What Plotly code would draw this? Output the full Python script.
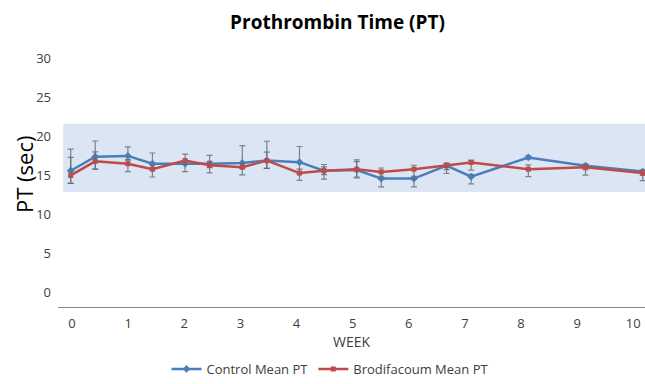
import plotly.graph_objects as go

# Sampling days -> weeks
days = [0, 3, 7, 10, 14, 17, 21, 24, 28, 31, 35, 38, 42, 46, 49, 56, 63, 70]
weeks = [d / 7 for d in days]

control_pt = [15.6, 17.4, 17.5, 16.5, 16.5, 16.5, 16.6, 16.9, 16.7, 15.6, 15.7, 14.6, 14.6, 16.25, 14.85, 17.3, 16.25, 15.5]
brodi_pt = [15.0, 16.8, 16.5, 15.8, 16.9, 16.3, 16.05, 16.9, 15.3, 15.6, 15.8, 15.45, 15.8, 16.25, 16.65, 15.8, 16.05, 15.3]

control_err_plus = [2.77, 2.0, 1.15, 1.37, 0.3, 1.06, 2.2, 2.47, 2.0, 0.8, 1.3, 0.3, 0.3, 0.3, 0.3, 0.2, 0.2, 0.2]
control_err_minus = [1.6, 1.6, 0.5, 0.5, 1.0, 0.5, 0.7, 1.0, 1.5, 0.5, 1.0, 1.07, 1.07, 0.5, 0.93, 0.2, 0.5, 0.5]
brodi_err_plus = [2.3, 1.2, 0.5, 0.5, 0.82, 0.5, 0.5, 1.09, 0.5, 0.5, 0.97, 0.5, 0.5, 0.3, 0.3, 0.55, 0.3, 0.3]
brodi_err_minus = [1.0, 1.0, 1.0, 1.0, 0.5, 0.97, 0.97, 1.0, 0.93, 1.06, 1.0, 0.9, 1.3, 1.0, 0.98, 0.95, 1.0, 0.95]

normal_range = [12.9, 21.6]
y_ticks = [0, 5, 10, 15, 20, 25, 30]
week_labels = list(range(0, 11))

BLUE = "#4a7ebb"
RED = "#be4b48"
ERR = "rgba(95,105,115,0.8)"
FONT = "Open Sans"

fig = go.Figure()
fig.add_trace(go.Scatter(
    x=weeks, y=control_pt, name="Control Mean PT", mode="lines+markers",
    line=dict(color=BLUE, width=2.5), marker=dict(symbol="diamond", size=6, color=BLUE),
    error_y=dict(type="data", symmetric=False, array=control_err_plus,
                 arrayminus=control_err_minus, color=ERR, thickness=1.2, width=3),
))
fig.add_trace(go.Scatter(
    x=weeks, y=brodi_pt, name="Brodifacoum Mean PT", mode="lines+markers",
    line=dict(color=RED, width=2.5), marker=dict(symbol="square", size=5, color=RED),
    error_y=dict(type="data", symmetric=False, array=brodi_err_plus,
                 arrayminus=brodi_err_minus, color=ERR, thickness=1.2, width=3),
))
# secondary (label) week axis, as in the original chart
fig.add_trace(go.Scatter(x=[None], y=[None], xaxis="x2", yaxis="y",
                         showlegend=False, hoverinfo="skip"))

fig.add_shape(type="rect", xref="x", yref="y", x0=-0.13, x1=10.1,
              y0=normal_range[0], y1=normal_range[1],
              fillcolor="#dbe5f3", line=dict(width=0), layer="below")

fig.add_annotation(text="PT (sec)", xref="paper", yref="paper",
                   x=-34 / 587, xanchor="center", y=(307 - 175) / 249, yanchor="middle",
                   textangle=-90, showarrow=False,
                   font=dict(family=FONT, size=22, color="black"))

fig.update_layout(
    width=645, height=384,
    margin=dict(l=58, r=0, t=58, b=77),
    paper_bgcolor="white", plot_bgcolor="white",
    font=dict(family=FONT, color="#404040", size=13),
    title=dict(text="<b>Prothrombin Time (PT)</b>", x=337.5 / 645, xanchor="center",
               y=1 - 22 / 384, yanchor="middle",
               font=dict(family=FONT, size=19, color="black")),
    showlegend=True,
    legend=dict(orientation="h", x=330 / 645, xanchor="center", xref="container",
                yref="container", y=0, yanchor="bottom",
                font=dict(size=13, color="#404040"), itemwidth=30, tracegroupgap=0),
    xaxis=dict(range=[-0.222, 10.04], showticklabels=False,
               showgrid=False, zeroline=False, showline=True, linecolor="#868686",
               linewidth=1, ticks=""),
    xaxis2=dict(range=[-0.25, 10.21], overlaying="x", side="bottom",
                tickvals=week_labels, ticktext=[str(t) for t in week_labels],
                showgrid=False, zeroline=False, showline=False, ticks="",
                ticklabelstandoff=7,
                title=dict(text="WEEK", font=dict(size=14, color="#404040"), standoff=4)),
    yaxis=dict(range=[-1.8, 30], tickvals=y_ticks, showgrid=False, zeroline=False,
               showline=False, ticks="", ticklabelstandoff=6),
)

fig.write_html("out.html")
